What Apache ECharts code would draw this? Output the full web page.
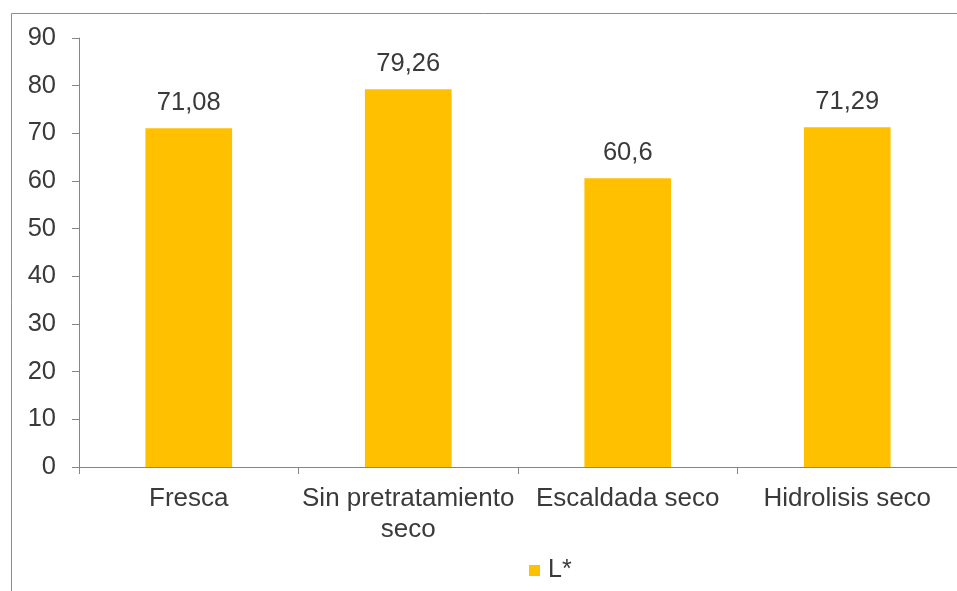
<!DOCTYPE html>
<html>
<head>
<meta charset="utf-8">
<style>
  html, body { margin: 0; padding: 0; background: #ffffff; }
  #chart { width: 957px; height: 591px; }
</style>
<script src="https://cdn.jsdelivr.net/npm/echarts@6/dist/echarts.min.js"></script>
</head>
<body>
<div id="chart"></div>
<script>
// Muestras y valor de luminosidad L*
const categories = ['Fresca', 'Sin pretratamiento\nseco', 'Escaldada seco', 'Hidrolisis seco'];
const valuesL = [71.08, 79.26, 60.6, 71.29];
const seriesName = 'L*';
const yTicks = { min: 0, max: 90, interval: 10 };

const FONT = '"Liberation Sans", Arial, sans-serif';
const TEXT = '#3a3a3a';
const AXIS = '#868686';

const chart = echarts.init(document.getElementById('chart'), null, { renderer: 'canvas' });

chart.setOption({
  animation: false,
  backgroundColor: '#ffffff',
  textStyle: { fontFamily: FONT },
  graphic: [{
    type: 'rect',
    shape: { x: 11.5, y: 13.5, width: 1000, height: 1000 },
    style: { fill: 'none', stroke: '#8c8c8c', lineWidth: 1 },
    silent: true
  }],
  grid: { left: 79, top: 38, width: 884, bottom: 124, containLabel: false },
  legend: {
    data: [seriesName],
    left: 524,
    top: 553,
    itemWidth: 11,
    itemHeight: 11,
    icon: 'rect',
    textStyle: { fontFamily: FONT, fontSize: 25, color: TEXT, padding: [0, 0, 0, 3] }
  },
  xAxis: {
    type: 'category',
    data: categories,
    axisLine: { show: true, lineStyle: { color: AXIS, width: 1 } },
    axisTick: { show: true, alignWithLabel: false, length: 7, lineStyle: { color: AXIS } },
    axisLabel: { fontFamily: FONT, fontSize: 26, color: TEXT, margin: 16, lineHeight: 31, interval: 0 },
    splitLine: { show: false }
  },
  yAxis: {
    type: 'value',
    min: yTicks.min,
    max: yTicks.max,
    interval: yTicks.interval,
    axisLine: { show: true, lineStyle: { color: AXIS, width: 1 } },
    axisTick: { show: true, inside: false, length: 7, lineStyle: { color: AXIS } },
    axisLabel: { fontFamily: FONT, fontSize: 25.5, color: TEXT, margin: 23 },
    splitLine: { show: false }
  },
  series: [{
    name: seriesName,
    type: 'bar',
    data: valuesL,
    barWidth: '39.5%',
    itemStyle: { color: '#FFC000' },
    label: {
      show: true,
      position: 'top',
      distance: 12,
      fontFamily: FONT,
      fontSize: 25.5,
      color: TEXT,
      formatter: p => String(p.value).replace('.', ',')
    }
  }]
});
</script>
</body>
</html>
